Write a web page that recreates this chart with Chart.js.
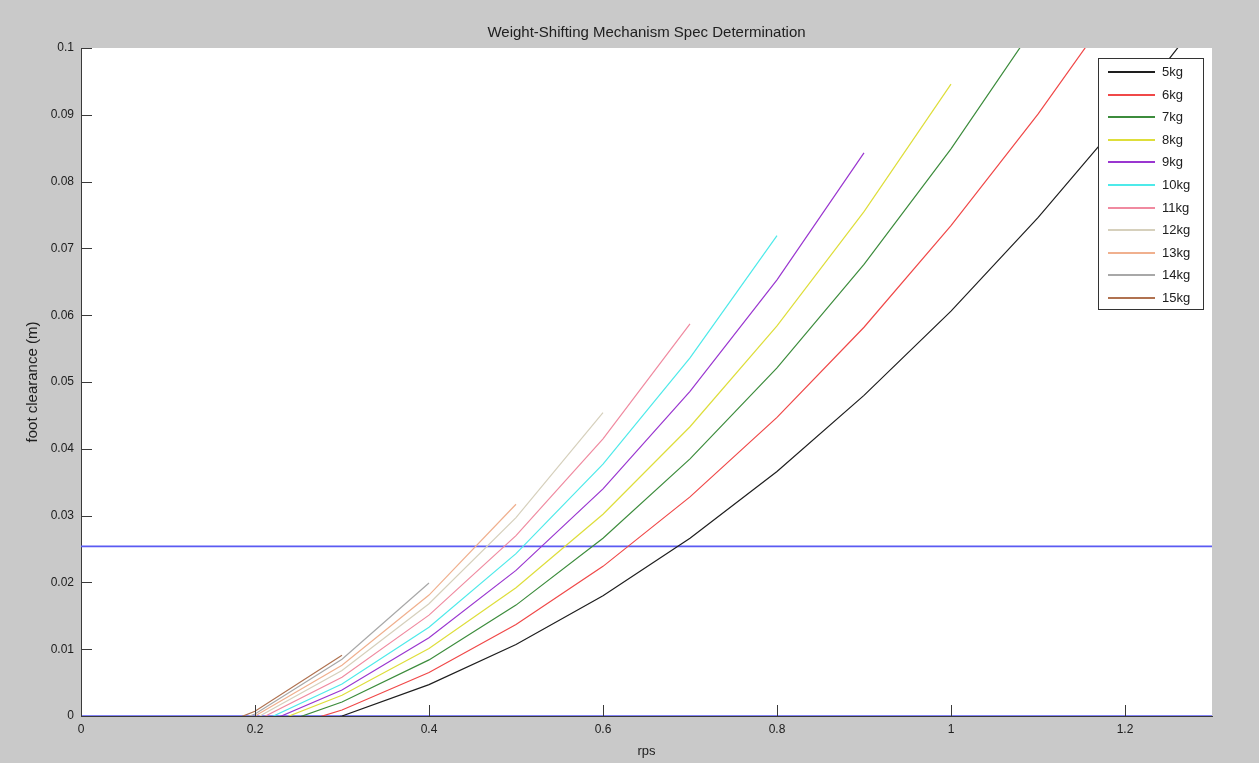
<!DOCTYPE html>
<html>
<head>
<meta charset="utf-8">
<script src="https://cdn.jsdelivr.net/npm/chart.js@4.4.1/dist/chart.umd.min.js"></script>
<style>
  html, body { margin: 0; padding: 0; background: #c9c9c9; }
  #wrap { width: 1259px; height: 763px; position: relative; }
  canvas { display: block; }
</style>
</head>
<body>
<div id="wrap"><canvas id="c" width="1259" height="763"></canvas></div>
<script>
// ---- data ----
const chartTitle = 'Weight-Shifting Mechanism Spec Determination';
const xTitle = 'rps';
const yTitle = 'foot clearance (m)';

const rps = [0.1, 0.2, 0.3, 0.4, 0.5, 0.6, 0.7, 0.8, 0.9, 1.0, 1.1, 1.2, 1.3];

const massLabels = ['5kg', '6kg', '7kg', '8kg', '9kg', '10kg', '11kg', '12kg', '13kg', '14kg', '15kg'];

const clear5kg  = [null, -0.0033, 0.0000, 0.0047, 0.0107, 0.0180, 0.0266, 0.0366, 0.0480, 0.0606, 0.0746, 0.0899, 0.1066];
const clear6kg  = [null, -0.0031, 0.0009, 0.0065, 0.0137, 0.0224, 0.0328, 0.0447, 0.0582, 0.0734, 0.0901, 0.1084, 0.1283];
const clear7kg  = [null, -0.0025, 0.0021, 0.0084, 0.0166, 0.0266, 0.0385, 0.0521, 0.0676, 0.0849, 0.1040, 0.1249, null];
const clear8kg  = [null, -0.0020, 0.0031, 0.0101, 0.0192, 0.0302, 0.0433, 0.0584, 0.0755, 0.0946, null, null, null];
const clear9kg  = [null, -0.0017, 0.0039, 0.0117, 0.0218, 0.0340, 0.0486, 0.0653, 0.0843, null, null, null, null];
const clear10kg = [null, -0.0013, 0.0048, 0.0133, 0.0243, 0.0377, 0.0536, 0.0719, null, null, null, null, null];
const clear11kg = [null, -0.0008, 0.0058, 0.0151, 0.0270, 0.0415, 0.0587, null, null, null, null, null, null];
const clear12kg = [null, -0.0004, 0.0068, 0.0168, 0.0297, 0.0454, null, null, null, null, null, null, null];
const clear13kg = [null, 0.0000, 0.0076, 0.0181, 0.0317, null, null, null, null, null, null, null, null];
const clear14kg = [-0.0046, 0.0003, 0.0085, 0.0199, null, null, null, null, null, null, null, null, null];
const clear15kg = [-0.0044, 0.0007, 0.0091, null, null, null, null, null, null, null, null, null, null];

const seriesValues = [clear5kg, clear6kg, clear7kg, clear8kg, clear9kg, clear10kg, clear11kg, clear12kg, clear13kg, clear14kg, clear15kg];
const seriesColors = ['#1e1e1e', '#f04848', '#3c8c3c', '#dede3a', '#9a36d0', '#4eeaea', '#f08aa0', '#d6d0bc', '#f0b08e', '#a8a8a8', '#b07250'];

// reference levels (blue lines): zero and 1 inch
const refLevels = [0, 0.0254];
const refSpan = [0, 1.3];
const refColor = '#5a5af2';

const xTicks = [0, 0.2, 0.4, 0.6, 0.8, 1.0, 1.2];
const yTicks = [0, 0.01, 0.02, 0.03, 0.04, 0.05, 0.06, 0.07, 0.08, 0.09, 0.1];

// ---- build datasets ----
const FONT = "'Liberation Sans', Arial, Helvetica, sans-serif";
const datasets = [];
seriesValues.forEach((vals, i) => {
  const pts = [];
  vals.forEach((v, j) => { if (v !== null) pts.push({ x: rps[j], y: v }); });
  datasets.push({
    label: massLabels[i],
    data: pts,
    borderColor: seriesColors[i],
    backgroundColor: seriesColors[i],
    borderWidth: 1.2,
    pointRadius: 0,
    showLine: true,
    tension: 0,
    inLegend: true
  });
});
refLevels.forEach((lvl) => {
  datasets.push({
    label: 'ref ' + lvl,
    data: refSpan.map(x => ({ x: x, y: lvl })),
    borderColor: refColor,
    borderWidth: 1.6,
    pointRadius: 0,
    showLine: true,
    inLegend: false
  });
});

const decorPlugin = {
  id: 'decor',
  beforeDraw(chart) {
    const { ctx, chartArea: a } = chart;
    ctx.save();
    ctx.fillStyle = '#c9c9c9';
    ctx.fillRect(0, 0, chart.width, chart.height);
    ctx.fillStyle = '#ffffff';
    ctx.fillRect(a.left, a.top, a.right - a.left, a.bottom - a.top);
    ctx.restore();
  },
  afterDraw(chart) {
    const { ctx, chartArea: a, scales } = chart;
    ctx.save();
    // inside tick marks
    ctx.strokeStyle = '#3a3a3a';
    ctx.lineWidth = 1;
    ctx.beginPath();
    scales.x.ticks.forEach(t => {
      const px = Math.round(scales.x.getPixelForValue(t.value)) + 0.5;
      ctx.moveTo(px, a.bottom);
      ctx.lineTo(px, a.bottom - 11);
    });
    scales.y.ticks.forEach(t => {
      const py = Math.round(scales.y.getPixelForValue(t.value)) + 0.5;
      ctx.moveTo(a.left, py);
      ctx.lineTo(a.left + 11, py);
    });
    ctx.stroke();

    // titles
    ctx.fillStyle = '#202020';
    ctx.font = '15px ' + FONT;
    ctx.textAlign = 'center';
    ctx.textBaseline = 'middle';
    ctx.fillText(chartTitle, (a.left + a.right) / 2, 33);
    ctx.font = '13px ' + FONT;
    ctx.fillText(xTitle, (a.left + a.right) / 2, 751);
    ctx.save();
    ctx.translate(33, (a.top + a.bottom) / 2);
    ctx.rotate(-Math.PI / 2);
    ctx.font = '15px ' + FONT;
    ctx.fillText(yTitle, 0, 0);
    ctx.restore();

    // legend box
    const bw = 105, bh = 251;
    const bx = a.right - 9 - bw, by = a.top + 10;
    ctx.fillStyle = '#ffffff';
    ctx.fillRect(bx, by, bw, bh);
    ctx.strokeStyle = '#333333';
    ctx.lineWidth = 1;
    ctx.strokeRect(Math.round(bx) + 0.5, Math.round(by) + 0.5, bw, bh);
    const items = chart.data.datasets.filter(d => d.inLegend);
    ctx.font = '13px ' + FONT;
    ctx.textAlign = 'left';
    ctx.textBaseline = 'middle';
    items.forEach((d, i) => {
      const y = Math.round(by + 14 + i * 22.6);
      ctx.strokeStyle = d.borderColor;
      ctx.lineWidth = 2;
      ctx.beginPath();
      ctx.moveTo(bx + 10, y);
      ctx.lineTo(bx + 57, y);
      ctx.stroke();
      ctx.fillStyle = '#202020';
      ctx.fillText(d.label, bx + 64, y);
    });
    ctx.restore();
  }
};

new Chart(document.getElementById('c'), {
  type: 'scatter',
  data: { datasets: datasets },
  options: {
    responsive: false,
    devicePixelRatio: 1,
    animation: false,
    layout: { padding: { top: 48, right: 47, left: 0, bottom: 0 } },
    plugins: { legend: { display: false }, tooltip: { enabled: false }, title: { display: false } },
    scales: {
      x: {
        type: 'linear',
        min: 0, max: 1.3,
        afterFit(s) { s.height = 47; },
        afterBuildTicks(s) { s.ticks = xTicks.map(v => ({ value: v })); },
        grid: { display: false, drawTicks: false },
        border: { display: true, color: '#3a3a3a', width: 1 },
        ticks: {
          padding: 6,
          color: '#202020',
          font: { family: FONT, size: 12 },
          maxRotation: 0,
          callback: (v) => String(Number(v.toFixed(2)))
        }
      },
      y: {
        type: 'linear',
        min: 0, max: 0.1,
        afterFit(s) { s.width = 81; },
        afterBuildTicks(s) { s.ticks = yTicks.map(v => ({ value: v })); },
        grid: { display: false, drawTicks: false },
        border: { display: true, color: '#3a3a3a', width: 1 },
        ticks: {
          padding: 7,
          color: '#202020',
          font: { family: FONT, size: 12 },
          callback: (v) => String(Number(v.toFixed(2)))
        }
      }
    }
  },
  plugins: [decorPlugin]
});
</script>
</body>
</html>
